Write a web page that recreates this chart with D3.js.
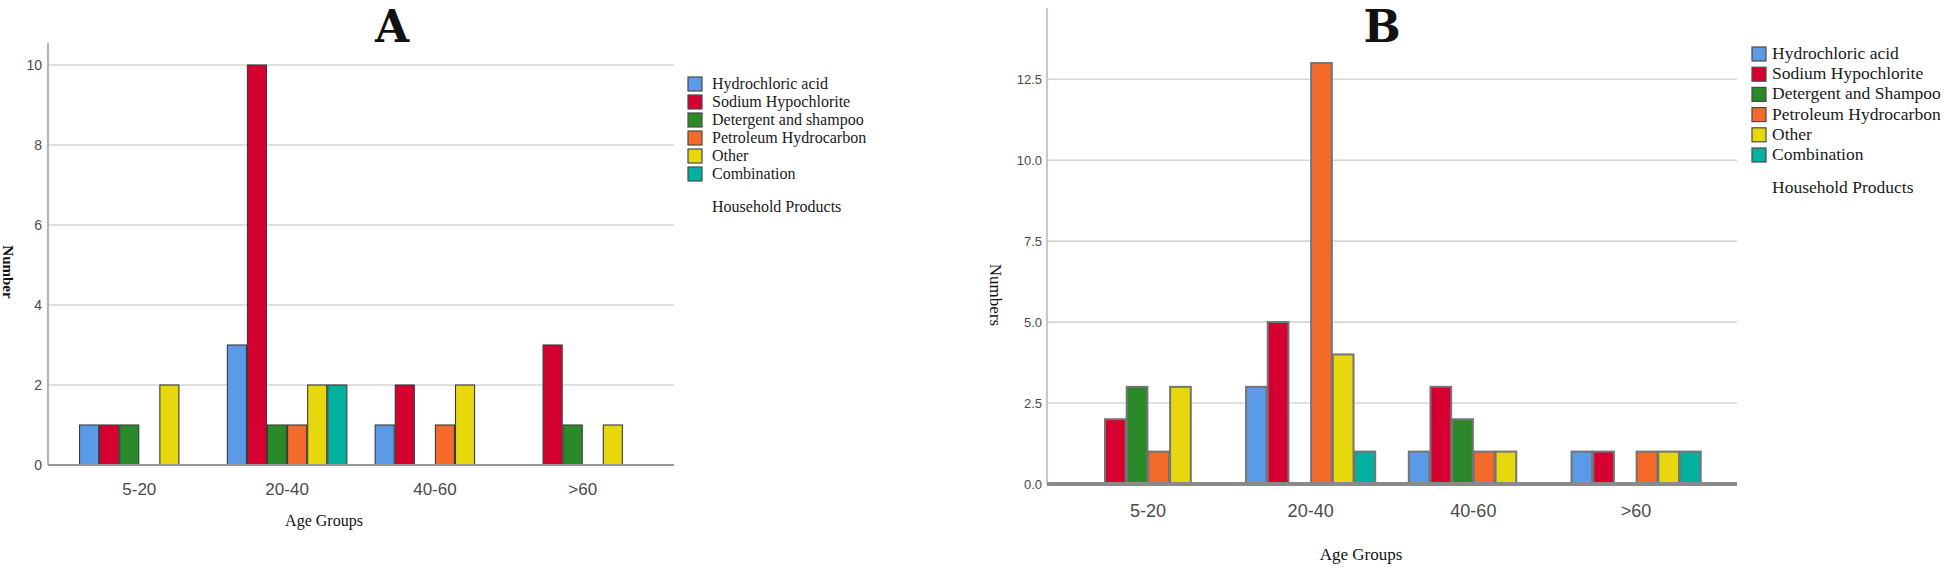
<!DOCTYPE html>
<html>
<head>
<meta charset="utf-8">
<script src="https://cdn.jsdelivr.net/npm/d3@7"></script>
<style>
  html, body { margin: 0; padding: 0; background: #fff; }
  svg { display: block; }
</style>
</head>
<body>
<svg id="chart" width="1944" height="567"></svg>
<script>
// ---------- DATA ----------
const categories = ["5-20", "20-40", "40-60", ">60"];

const seriesNamesA = ["Hydrochloric acid", "Sodium Hypochlorite", "Detergent and shampoo",
                      "Petroleum Hydrocarbon", "Other", "Combination"];
const seriesNamesB = ["Hydrochloric acid", "Sodium Hypochlorite", "Detergent and Shampoo",
                      "Petroleum Hydrocarbon", "Other", "Combination"];

// Panel A values (per age group)
const hydrochloricA = [1, 3, 1, 0];
const sodiumA       = [1, 10, 2, 3];
const detergentA    = [1, 1, 0, 1];
const petroleumA    = [0, 1, 1, 0];
const otherA        = [2, 2, 2, 1];
const combinationA  = [0, 2, 0, 0];

// Panel B values (per age group)
const hydrochloricB = [0, 3, 1, 1];
const sodiumB       = [2, 5, 3, 1];
const detergentB    = [3, 0, 2, 0];
const petroleumB    = [1, 13, 1, 1];
const otherB        = [3, 4, 1, 1];
const combinationB  = [0, 1, 0, 1];

const ticksA = [0, 2, 4, 6, 8, 10];
const ticksB = [0, 2.5, 5, 7.5, 10, 12.5];

const legendTitle = "Household Products";
const xTitle = "Age Groups";

// ---------- STYLE ----------
const colors = ["#5b9ae6", "#d5002f", "#2a8a2a", "#f36a2b", "#e6d80c", "#00b1a0"];

const svg = d3.select("#chart");

function drawPanel(cfg) {
  const g = svg.append("g");
  const x = d3.scaleBand().domain(categories)
    .range([cfg.left, cfg.right]).paddingInner(cfg.pi).paddingOuter(cfg.po);
  const xs = d3.scaleBand().domain(d3.range(cfg.series.length))
    .range([0, x.bandwidth()]).padding(0);
  const y = d3.scaleLinear().domain([0, cfg.ymax]).range([cfg.bottom, cfg.top]);

  // gridlines
  g.append("g").selectAll("line").data(cfg.ticks.filter(t => t > 0)).join("line")
    .attr("x1", cfg.left).attr("x2", cfg.right)
    .attr("y1", d => y(d)).attr("y2", d => y(d))
    .attr("stroke", "#d6d6d6").attr("stroke-width", 1.6);

  // y axis
  const yAxis = d3.axisLeft(y).tickValues(cfg.ticks).tickSize(0).tickPadding(cfg.tickPad)
    .tickFormat(cfg.fmt);
  const ya = g.append("g").attr("transform", `translate(${cfg.left},0)`).call(yAxis);
  ya.select(".domain").remove();
  ya.selectAll("text").attr("font-family", "Liberation Sans, Arial, sans-serif")
    .attr("font-size", cfg.yTickSize).attr("fill", "#4a4a4a");
  g.append("line").attr("x1", cfg.left).attr("x2", cfg.left)
    .attr("y1", cfg.top).attr("y2", cfg.bottom)
    .attr("stroke", cfg.yAxisColor).attr("stroke-width", 2.2);

  // bars
  const rows = [];
  cfg.values.forEach((arr, si) => arr.forEach((v, ci) => {
    if (v > 0) rows.push({ si, cat: categories[ci], v });
  }));
  g.append("g").selectAll("rect").data(rows).join("rect")
    .attr("x", d => x(d.cat) + xs(d.si) + 0.5)
    .attr("y", d => y(d.v))
    .attr("width", xs.bandwidth() - 1)
    .attr("height", d => y(0) - y(d.v))
    .attr("fill", d => colors[d.si])
    .attr("stroke", cfg.barStroke).attr("stroke-width", cfg.barStrokeW);

  // baseline
  g.append("line").attr("x1", cfg.left).attr("x2", cfg.right)
    .attr("y1", y(0)).attr("y2", y(0))
    .attr("stroke", cfg.baseColor).attr("stroke-width", cfg.baseW);

  // x axis labels
  const xAxis = d3.axisBottom(x).tickSize(0).tickPadding(cfg.xTickPad);
  const xa = g.append("g").attr("transform", `translate(0,${y(0)})`).call(xAxis);
  xa.select(".domain").remove();
  xa.selectAll("text").attr("font-family", "Liberation Sans, Arial, sans-serif")
    .attr("font-size", cfg.xTickSize).attr("fill", "#4a4a4a");

  // titles
  g.append("text").attr("x", cfg.titleX).attr("y", cfg.titleY)
    .attr("text-anchor", "middle").attr("font-family", "DejaVu Serif, serif")
    .attr("font-weight", "bold").attr("font-size", 44).attr("fill", "#111")
    .text(cfg.title);
  g.append("text").attr("x", cfg.xTitleX).attr("y", cfg.xTitleY)
    .attr("text-anchor", "middle").attr("font-family", "Liberation Serif, Times New Roman, serif")
    .attr("font-size", cfg.xTitleSize).attr("fill", "#111").text(xTitle);
  g.append("text")
    .attr("transform", `translate(${cfg.yTitleX},${cfg.yTitleY}) rotate(90)`)
    .attr("text-anchor", "middle").attr("dominant-baseline", "central")
    .attr("font-family", "Liberation Serif, Times New Roman, serif")
    .attr("font-weight", cfg.yTitleWeight)
    .attr("font-size", cfg.yTitleSize).attr("fill", "#111").text(cfg.yTitle);

  // legend
  const lg = g.append("g");
  cfg.series.forEach((name, i) => {
    const top = cfg.legTop + i * cfg.legStep;
    lg.append("rect").attr("x", cfg.legX).attr("y", top)
      .attr("width", 14).attr("height", 14)
      .attr("fill", colors[i]).attr("stroke", "#4a4a4a").attr("stroke-width", 1.2);
    lg.append("text").attr("x", cfg.legTextX).attr("y", top + 12)
      .attr("font-family", "Liberation Serif, Times New Roman, serif")
      .attr("font-size", cfg.legSize).attr("fill", "#1a1a1a").text(name);
  });
  lg.append("text").attr("x", cfg.legTextX).attr("y", cfg.legTitleY)
    .attr("font-family", "Liberation Serif, Times New Roman, serif")
    .attr("font-size", cfg.legSize).attr("fill", "#1a1a1a").text(legendTitle);
}

drawPanel({
  title: "A", titleX: 392, titleY: 42,
  series: seriesNamesA,
  values: [hydrochloricA, sodiumA, detergentA, petroleumA, otherA, combinationA],
  ticks: ticksA, fmt: d3.format("d"), ymax: 10.55,
  left: 48, right: 674, top: 43, bottom: 465, pi: 0.185, po: 0.21,
  tickPad: 6, yTickSize: 14, xTickSize: 17, xTickPad: 18,
  yAxisColor: "#b4b4b4", baseColor: "#9a9a9a", baseW: 2.2,
  barStroke: "#3a3a3a", barStrokeW: 1.1,
  xTitleX: 324, xTitleY: 526, xTitleSize: 16,
  yTitle: "Number", yTitleX: 8, yTitleY: 272, yTitleSize: 15, yTitleWeight: "bold",
  legX: 688, legTextX: 712, legTop: 77, legStep: 18, legSize: 16, legTitleY: 212
});

drawPanel({
  title: "B", titleX: 1382, titleY: 42,
  series: seriesNamesB,
  values: [hydrochloricB, sodiumB, detergentB, petroleumB, otherB, combinationB],
  ticks: ticksB, fmt: d3.format(".1f"), ymax: 14.7,
  left: 1047, right: 1737, top: 8, bottom: 484, pi: 0.2, po: 0.22,
  tickPad: 5, yTickSize: 13, xTickSize: 18, xTickPad: 20,
  yAxisColor: "#c8c8c8", baseColor: "#8a8a8a", baseW: 4,
  barStroke: "#747474", barStrokeW: 2,
  xTitleX: 1361, xTitleY: 560, xTitleSize: 17,
  yTitle: "Numbers", yTitleX: 995, yTitleY: 295, yTitleSize: 17, yTitleWeight: "normal",
  legX: 1752, legTextX: 1772, legTop: 47, legStep: 20.2, legSize: 17.5, legTitleY: 193
});
</script>
</body>
</html>
